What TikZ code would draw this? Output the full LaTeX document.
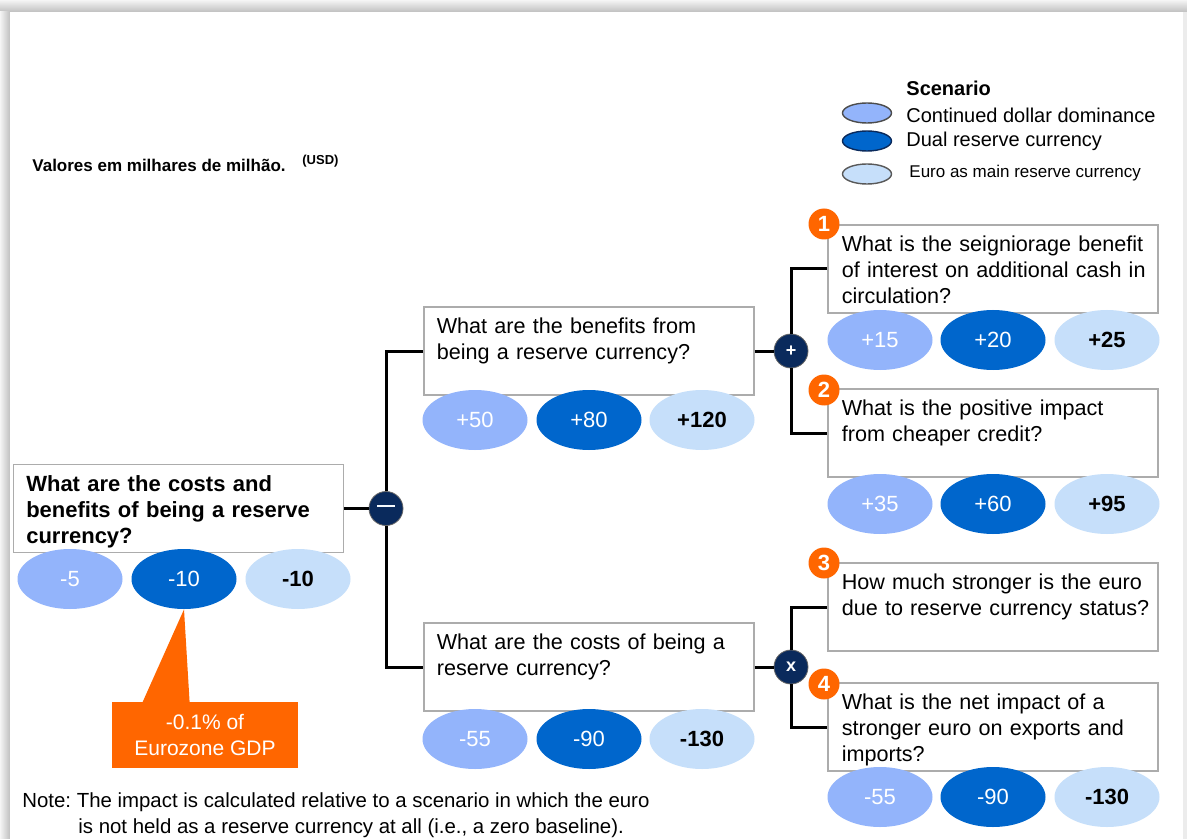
\documentclass[tikz,border=0pt]{standalone}
\usepackage{fontspec}
\setmainfont{Liberation Sans}
\usetikzlibrary{shapes.geometric,calc}
\frenchspacing
\hyphenpenalty=10000
\exhyphenpenalty=10000

\definecolor{vlight}{HTML}{93B4FB}
\definecolor{vdark}{HTML}{0066CC}
\definecolor{vpale}{HTML}{C6DFFA}
\definecolor{navy}{HTML}{0A2A5C}
\definecolor{orng}{HTML}{FF6600}

\tikzset{
  qbox/.style={draw=gray!65, line width=0.6pt, fill=white, minimum width=165pt, minimum height=44pt, inner sep=0pt},
  qtext/.style={anchor=north west, inner sep=0pt, text width=160pt, align=left, font=\fontsize{10.8}{13}\selectfont},
  val/.style={ellipse, minimum width=52.5pt, minimum height=30pt, inner sep=0pt, font=\fontsize{11}{13}\selectfont},
  v1/.style={val, fill=vlight, text=white},
  v2/.style={val, fill=vdark, text=white},
  v3/.style={val, fill=vpale, text=black, font=\fontsize{11}{13}\selectfont\bfseries},
  optr/.style={circle, fill=navy, draw=black!60, line width=0.4pt, minimum size=17pt, inner sep=0pt, text=white, font=\bfseries\fontsize{9}{9}\selectfont},
  badge/.style={circle, fill=orng, minimum size=15.5pt, inner sep=0pt, text=white, font=\bfseries\fontsize{11}{11}\selectfont},
  lg/.style={ellipse, minimum width=24.5pt, minimum height=10pt, inner sep=0pt, line width=0.7pt},
  lbl/.style={anchor=west, inner sep=0pt},
  link/.style={line width=1.5pt, black},
}

\begin{document}
\begin{tikzpicture}[x=0.5pt, y=-0.5pt]
    \useasboundingbox (0,0) rectangle (1187,839);
    \shade[top color=gray!8, bottom color=gray!50] (0,0) rectangle (1187,12);
    \shade[left color=gray!8, right color=gray!50] (0,12) rectangle (10,839);
    \fill[gray!15] (1183,12) rectangle (1187,839);
    \fill[white] (10,12) rectangle (1183,839);

    % legend
    \node[lbl, font=\bfseries\fontsize{10}{12}\selectfont] (scen) at (906,88) {Scenario};
    \node[lg, fill=vlight, draw=gray!60!black] (l1) at (867,113) {};
    \node[lg, fill=vdark, draw=navy] (l2) at (867,141) {};
    \node[lg, fill=vpale, draw=gray!70!black] (l3) at (867,174) {};
    \node[lbl, font=\fontsize{10}{12}\selectfont] (l1t) at (906,115) {Continued dollar dominance};
    \node[lbl, font=\fontsize{10}{12}\selectfont] (l2t) at (906,141) {Dual reserve currency};
    \node[lbl, font=\fontsize{8.5}{10}\selectfont] (l3t) at (909,173) {Euro as main reserve currency};

    \node[lbl, font=\bfseries\fontsize{8.5}{10}\selectfont] (unit) at (32,165) {Valores em milhares de milhão.};
    \node[lbl, font=\bfseries\fontsize{6.5}{8}\selectfont] (usd) at (302,161) {(USD)};

    % boxes
    \node[qbox] (root) at (178.5,508.5) {};
    \node[qbox] (ben) at (589,351) {};
    \node[qbox] (cost) at (589,667) {};
    \node[qbox] (q1) at (993,269) {};
    \node[qbox] (q2) at (993,433) {};
    \node[qbox] (q3) at (993,607) {};
    \node[qbox] (q4) at (993,727) {};

    \node[qtext, font=\bfseries\fontsize{11}{13}\selectfont] (roott) at ($(root.north west)+(13,11)$) {What are the costs and\\benefits of being a reserve\\currency?};
    \node[qtext] (bent) at ($(ben.north west)+(13,11)$) {What are the benefits from\\being a reserve currency?};
    \node[qtext] (costt) at ($(cost.north west)+(13,11)$) {What are the costs of being a\\reserve currency?};
    \node[qtext] (q1t) at ($(q1.north west)+(14,11)$) {What is the seigniorage benefit\\of interest on additional cash in\\circulation?};
    \node[qtext] (q2t) at ($(q2.north west)+(14,11)$) {What is the positive impact\\from cheaper credit?};
    \node[qtext] (q3t) at ($(q3.north west)+(14,11)$) {How much stronger is the euro\\due to reserve currency status?};
    \node[qtext] (q4t) at ($(q4.north west)+(14,11)$) {What is the net impact of a\\stronger euro on exports and\\imports?};

    % operators
    \node[optr] (minus) at (386,508.5) {\color{white!85!vpale}\rule[2.6pt]{9pt}{1pt}};
    \node[optr] (plus) at (791,351) {+};
    \node[optr] (times) at (791,667) {x};

    \draw[link] (root.east) -- (minus.west);
    \draw[link] (minus.north) |- (ben.west);
    \draw[link] (minus.south) |- (cost.west);
    \draw[link] (ben.east) -- (plus.west);
    \draw[link] (plus.north) |- (q1.west);
    \draw[link] (plus.south) |- (q2.west);
    \draw[link] (cost.east) -- (times.west);
    \draw[link] (times.north) |- (q3.west);
    \draw[link] (times.south) |- (q4.west);

    % values
    \node[v1] (r1) at (70,579) {-5};
    \node[v2] (r2) at (184,579) {-10};
    \node[v3] (r3) at (298,579) {-10};
    \node[v1] (b1) at (475,420) {+50};
    \node[v2] (b2) at (589,420) {+80};
    \node[v3] (b3) at (702,420) {+120};
    \node[v1] (c1) at (475,739) {-55};
    \node[v2] (c2) at (589,739) {-90};
    \node[v3] (c3) at (702,739) {-130};
    \node[v1] (s1) at (880,340) {+15};
    \node[v2] (s2) at (993,340) {+20};
    \node[v3] (s3) at (1107,340) {+25};
    \node[v1] (p1) at (880,504) {+35};
    \node[v2] (p2) at (993,504) {+60};
    \node[v3] (p3) at (1107,504) {+95};
    \node[v1] (n1) at (880,797) {-55};
    \node[v2] (n2) at (993,797) {-90};
    \node[v3] (n3) at (1107,797) {-130};

    \node[badge] (k1) at (824,224) {1};
    \node[badge] (k2) at (824,390) {2};
    \node[badge] (k3) at (824,563) {3};
    \node[badge] (k4) at (824,684) {4};

    % callout
    \node[fill=orng, text=white, minimum width=93pt, minimum height=33pt, inner sep=0pt, align=center, font=\fontsize{10.5}{13}\selectfont] (gdp) at (205,735) {-0.1\% of\\Eurozone GDP};
    \fill[orng] ($(gdp.north west)+(31,0.5)$) -- (r2.south) -- ($(gdp.north west)+(78,0.5)$) -- cycle;

    \node[lbl, align=left, font=\fontsize{10.2}{13}\selectfont] (note) at (22,815) {Note: The impact is calculated relative to a scenario in which the euro\\\hspace*{28pt}is not held as a reserve currency at all (i.e., a zero baseline).};
\end{tikzpicture}
\end{document}
